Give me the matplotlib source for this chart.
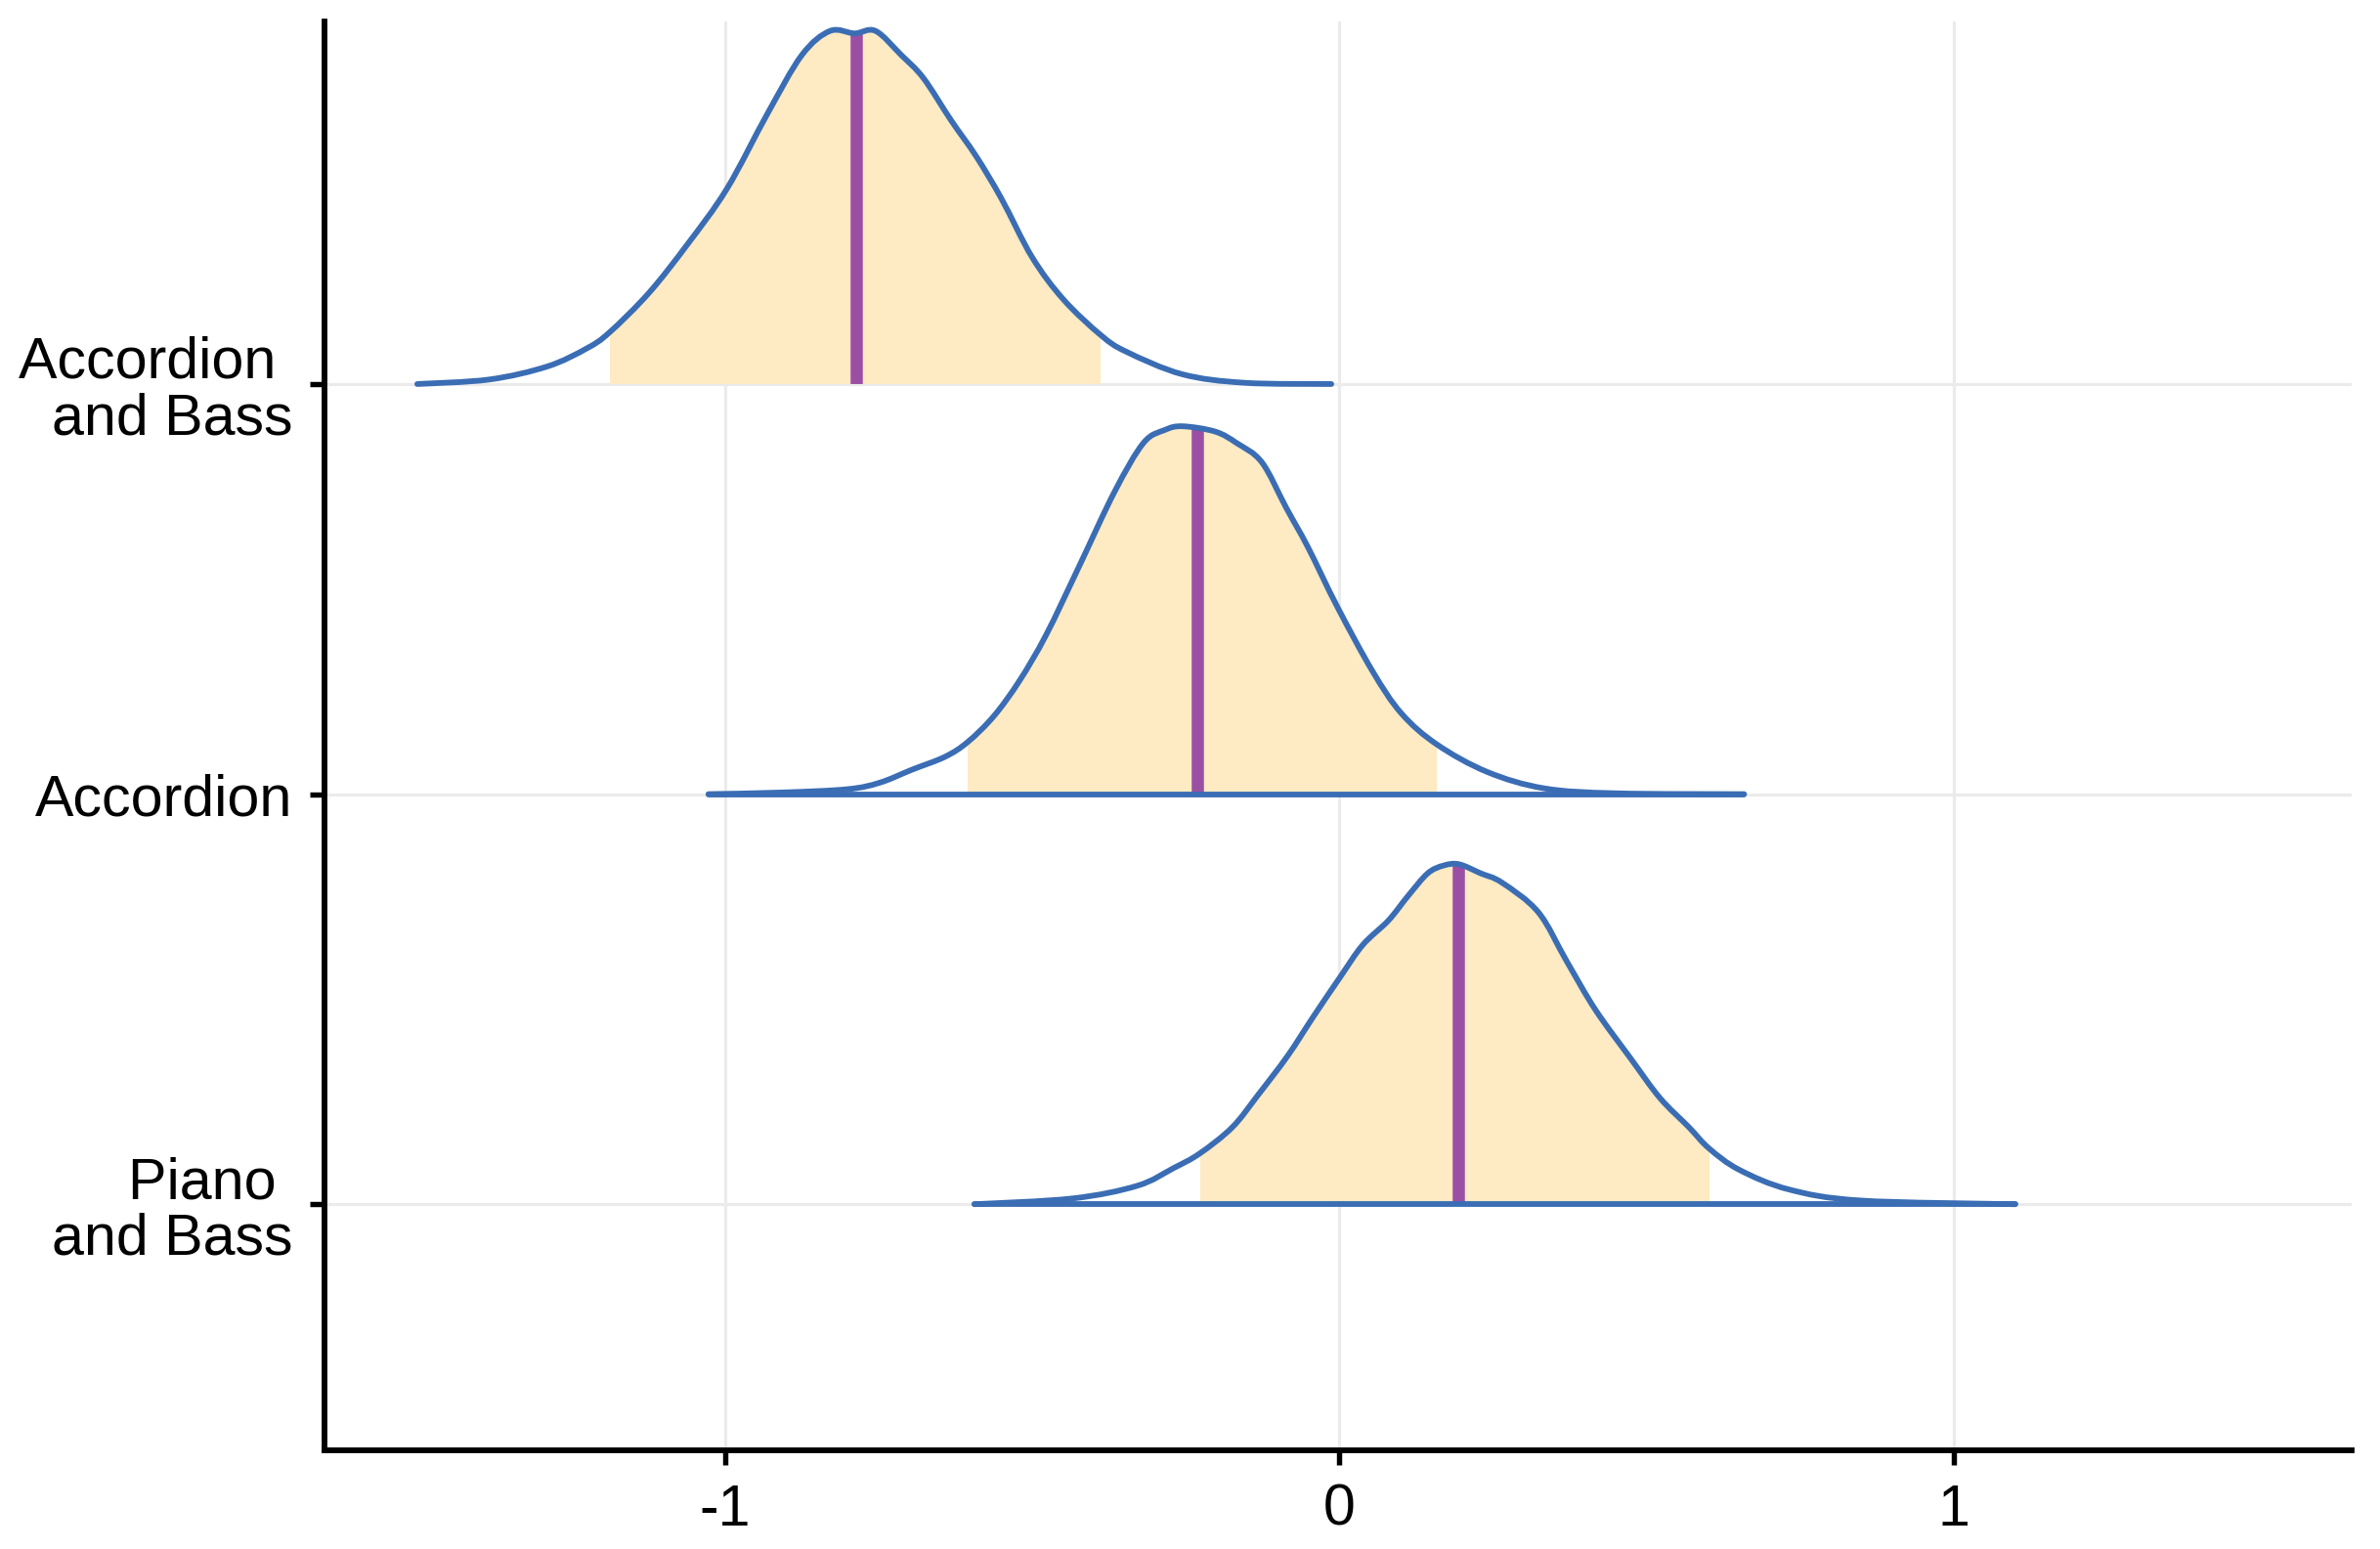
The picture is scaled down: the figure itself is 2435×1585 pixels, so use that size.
import numpy as np
import matplotlib
matplotlib.use("Agg")
import matplotlib.pyplot as plt
from matplotlib.path import Path
from matplotlib.patches import PathPatch, Rectangle

plt.rcParams['font.family'] = ['Liberation Sans', 'DejaVu Sans']

# ---- data ----
labels = ["Piano \nand Bass", "Accordion", "Accordion \nand Bass"]
positions = [1, 2, 3]

# Accordion and Bass (top row)
x_ab = [-1.501, -1.384, -1.289, -1.225, -1.188, -1.124, -1.061, -0.997, -0.931,
        -0.875, -0.829, -0.789, -0.755, -0.713, -0.677, -0.632, -0.591, -0.550,
        -0.500, -0.449, -0.388, -0.347, -0.256, -0.154, -0.013]
h_ab = [0.000, 0.011, 0.043, 0.087, 0.126, 0.222, 0.341, 0.476, 0.659,
        0.802, 0.861, 0.855, 0.861, 0.802, 0.746, 0.643, 0.555, 0.452,
        0.309, 0.206, 0.119, 0.079, 0.024, 0.003, 0.000]
ci_ab = (-1.188, -0.388)
med_ab = -0.786

# Accordion (middle row)
x_a = [-1.027, -0.907, -0.801, -0.748, -0.695, -0.642, -0.605, -0.562, -0.520,
       -0.477, -0.424, -0.366, -0.319, -0.284, -0.255, -0.202, -0.167, -0.126,
       -0.086, -0.051, -0.004, 0.054, 0.101, 0.159, 0.241, 0.334, 0.451, 0.659]
h_a = [0.000, 0.004, 0.012, 0.028, 0.060, 0.091, 0.127, 0.191, 0.278,
       0.389, 0.554, 0.737, 0.856, 0.888, 0.897, 0.884, 0.856, 0.809,
       0.697, 0.602, 0.459, 0.300, 0.197, 0.121, 0.054, 0.014, 0.002, 0.000]
ci_a = (-0.605, 0.159)
med_a = -0.231

# Piano and Bass (bottom row)
x_pb = [-0.594, -0.435, -0.329, -0.270, -0.227, -0.174, -0.132, -0.084, -0.042,
        0.001, 0.038, 0.080, 0.112, 0.144, 0.170, 0.195, 0.230, 0.265, 0.324,
        0.370, 0.417, 0.475, 0.522, 0.569, 0.602, 0.651, 0.732, 0.849, 1.100]
h_pb = [0.000, 0.014, 0.045, 0.088, 0.124, 0.188, 0.267, 0.362, 0.458,
        0.553, 0.632, 0.692, 0.752, 0.807, 0.826, 0.829, 0.807, 0.784, 0.712,
        0.593, 0.474, 0.354, 0.259, 0.188, 0.136, 0.084, 0.036, 0.009, 0.000]
ci_pb = (-0.227, 0.602)
med_pb = 0.193

xs_all = [x_pb, x_a, x_ab]
hs_all = [h_pb, h_a, h_ab]
cis = [ci_pb, ci_a, ci_ab]
meds = [med_pb, med_a, med_ab]
draw_base = [True, True, False]

# ---- style ----
LINE = "#3A6DB4"
FILL = "#FEEAC3"
MED = "#9A4FA4"
GRID = "#EBEBEB"


def smooth_path(xs, ys, close=False):
    """Catmull-Rom curve through the points as cubic Bezier segments."""
    P = np.column_stack([xs, ys])
    n = len(P)
    verts = [P[0]]
    codes = [Path.MOVETO]
    for i in range(n - 1):
        p0 = P[i - 1] if i > 0 else P[i]
        p1 = P[i]
        p2 = P[i + 1]
        p3 = P[i + 2] if i + 2 < n else P[i + 1]
        c1 = p1 + (p2 - p0) / 6.0
        c2 = p2 - (p3 - p1) / 6.0
        verts += [c1, c2, p2]
        codes += [Path.CURVE4] * 3
    if close:
        verts += [P[0], P[0]]
        codes += [Path.LINETO, Path.CLOSEPOLY]
    return Path(np.array(verts), codes)


fig = plt.figure(figsize=(2436/300, 1585/300), dpi=300)
ax = fig.add_axes([332/2436, 1 - 1484/1585, (2406-332)/2436, (1484-22)/1585])

ax.set_xlim(-1.652, 1.648)
ax.set_ylim(0.4, 3.884)

for xv in [-1, 0, 1]:
    ax.axvline(xv, color=GRID, lw=0.75, zorder=0)
for p in positions:
    ax.axhline(p, color=GRID, lw=0.75, zorder=0)

for p, xs, hs, ci, med, base in zip(positions, xs_all, hs_all, cis, meds, draw_base):
    xs = np.asarray(xs, float)
    ys = p + np.asarray(hs, float)
    area = smooth_path(xs, ys, close=True)
    # shaded interval (area under curve clipped to the interval)
    fill = PathPatch(area, facecolor=FILL, edgecolor='none', lw=0, zorder=2)
    ax.add_patch(fill)
    clip = Rectangle((ci[0], p), ci[1] - ci[0], 1.0, transform=ax.transData)
    fill.set_clip_path(clip)
    # median line clipped to the area
    mline, = ax.plot([med, med], [p, p + 1.0], color=MED, lw=3.0,
                     solid_capstyle='butt', zorder=3)
    mline.set_clip_path(area, ax.transData)
    # outline
    outline = PathPatch(smooth_path(xs, ys), facecolor='none', edgecolor=LINE,
                        lw=1.4, joinstyle='round', capstyle='round', zorder=4)
    ax.add_patch(outline)
    if base:
        ax.plot([xs[0], xs[-1]], [p, p], color=LINE, lw=1.4,
                solid_capstyle='round', zorder=4)

ax.set_yticks(positions)
ax.set_yticklabels(labels, fontsize=14.2, linespacing=1.05, ha='right',
                   multialignment='right')
ax.set_xticks([-1, 0, 1])
ax.set_xticklabels(["-1", "0", "1"], fontsize=14.2)

for s in ['top', 'right']:
    ax.spines[s].set_visible(False)
for s in ['left', 'bottom']:
    ax.spines[s].set_linewidth(1.4)
    ax.spines[s].set_color('black')
ax.tick_params(axis='both', length=3.6, width=1.3, color='black', labelcolor='black')
ax.tick_params(axis='y', pad=4.3)
ax.tick_params(axis='x', pad=4.5)

fig.savefig("out.png", dpi=300, facecolor='white')
